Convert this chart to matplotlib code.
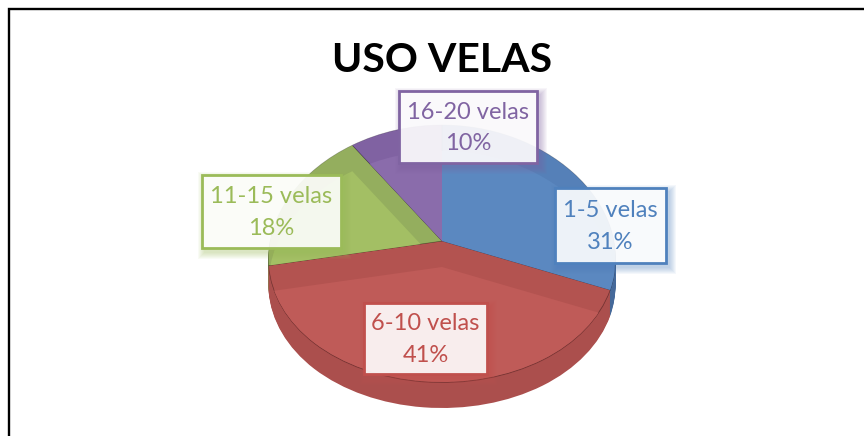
import matplotlib
matplotlib.use("Agg")
from matplotlib import pyplot as plt
from matplotlib.patches import Rectangle
from matplotlib.transforms import Transform
import numpy as np

title = "USO VELAS"
categories = ["1-5 velas", "6-10 velas", "11-15 velas", "16-20 velas"]
values = [31, 41, 18, 10]

colors_strip = ["#5580b8", "#b35350", "#94ae5e", "#8062a2"]
colors_top = ["#5b88c0", "#bf5b58", "#a3bf64", "#8a6cab"]
colors_side = ["#45699a", "#ab4f4d", "#7d9450", "#6b5289"]
colors_rim = ["#2f4a70", "#853b3a", "#5f7040", "#4f3d66"]
colors_text = ["#4f81bd", "#c0504d", "#9bbb59", "#8064a2"]


class Tilt(Transform):
    # unit pie -> picture pixels, narrower at the back like the 3D chart
    input_dims = 2
    output_dims = 2

    def __init__(self, drop=0):
        super().__init__()
        self.drop = drop

    def transform_non_affine(self, values):
        v = np.asarray(values, dtype=float)
        x = 442 + v[:, 0] * (172 - 24 * v[:, 1])
        y = 241 - (128.5 * v[:, 1] - 12.5 * v[:, 1] ** 2) + self.drop
        return np.column_stack([x, y])


def draw_pie(colors, drop, zorder, lw=0.0):
    wedges, _ = ax.pie(values, colors=colors, startangle=90, counterclock=False,
                       wedgeprops=dict(linewidth=lw, edgecolor="#00000040"))
    for w in wedges:
        w.set_transform(Tilt(drop) + ax.transData)
        w.set_zorder(zorder)
    return wedges


fig = plt.figure(figsize=(8.64, 4.36), dpi=100)
ax = fig.add_axes([0, 0, 1, 1])

# side of the pie, stacked from the bottom up, dark just under the rim
for drop in range(26, 0, -1):
    draw_pie(colors_rim if drop < 2 else colors_side, drop, 2)

top = draw_pie(colors_strip, 0, 3, lw=0.5)
inner = draw_pie(colors_top, 26, 4)

# lighter face only inside the rim of its own slice (pie turns clipping off)
for w_in, w_top in zip(inner, top):
    w_in.set_clip_on(True)
    w_in.set_clip_path(w_top)

ax.set_aspect("auto")
ax.set_xlim(0, 864)
ax.set_ylim(436, 0)
ax.axis("off")

ax.plot([8.5, 8.5, 864], [436, 9.5, 9.5], color="black", lw=1.7, zorder=1,
        solid_joinstyle="miter", clip_on=False)

ax.text(442, 60, title, ha="center", va="center", fontsize=29.5, fontweight="bold",
        family="Lato", color="black", zorder=8)

boxes = [(555, 188, 111, 75), (364, 303, 123, 71), (202, 175, 139, 73), (399, 91, 138, 72)]
for name, val, col, (bx, by, bw, bh) in zip(categories, values, colors_text, boxes):
    # soft shadow under the label, tinted like the box
    for grow in range(14, 0, -2):
        ax.add_patch(Rectangle((bx + 3 - grow / 2, by + 4 - grow / 2), bw + grow, bh + grow,
                               facecolor=col, alpha=0.06, lw=0, zorder=5))
    ax.add_patch(Rectangle((bx, by), bw, bh, facecolor="white", alpha=0.9, lw=0, zorder=6))
    ax.add_patch(Rectangle((bx, by), bw, bh, facecolor="none", edgecolor=col, lw=2, zorder=7))
    ax.text(bx + bw / 2, by + bh / 2 + 1, f"{name}\n{val}%", ha="center", va="center",
            fontsize=17, family="Lato", color=col, linespacing=1.6, zorder=8)

fig.savefig("out.png", dpi=100)
